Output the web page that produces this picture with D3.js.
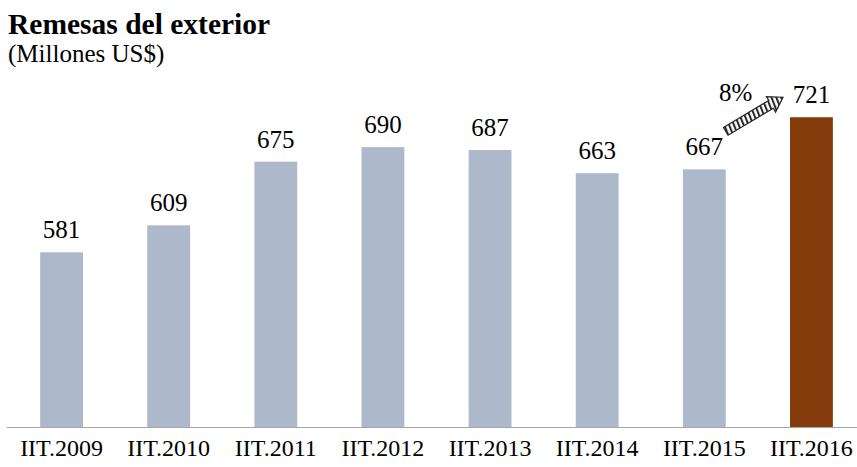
<!DOCTYPE html>
<html>
<head>
<meta charset="utf-8">
<script src="https://cdn.jsdelivr.net/npm/d3@7.9.0/dist/d3.min.js"></script>
<style>
  body { margin: 0; background: #fff; }
  svg { display: block; }
  text { font-family: "Liberation Serif", "DejaVu Serif", serif; fill: #000; }
</style>
</head>
<body>
<svg width="857" height="467"></svg>
<script>
const periods = ['IIT.2009', 'IIT.2010', 'IIT.2011', 'IIT.2012', 'IIT.2013', 'IIT.2014', 'IIT.2015', 'IIT.2016'];
const remesas = [581, 609, 675, 690, 687, 663, 667, 721];
const barColors = ['#adb9ca', '#adb9ca', '#adb9ca', '#adb9ca', '#adb9ca', '#adb9ca', '#adb9ca', '#843c0c'];

const data = periods.map((p, i) => ({ label: p, value: remesas[i], color: barColors[i] }));

const svg = d3.select('svg');
const baseY = 427;

const x = d3.scaleBand()
  .domain(periods)
  .range([8, 865])
  .paddingInner(0.6)
  .paddingOuter(0.3);

const y = d3.scaleLinear()
  .domain([400, 800])
  .range([baseY, 41]);

// title
svg.append('text')
  .attr('x', 8).attr('y', 34)
  .attr('font-size', 29.5).attr('font-weight', 'bold')
  .text('Remesas del exterior');
svg.append('text')
  .attr('x', 8).attr('y', 62)
  .attr('font-size', 25)
  .text('(Millones US$)');

// bars
svg.selectAll('rect.bar')
  .data(data)
  .join('rect')
  .attr('class', 'bar')
  .attr('x', d => x(d.label))
  .attr('width', x.bandwidth())
  .attr('y', d => y(d.value))
  .attr('height', d => baseY - y(d.value))
  .attr('fill', d => d.color);

// value labels
svg.selectAll('text.val')
  .data(data)
  .join('text')
  .attr('class', 'val')
  .attr('x', d => x(d.label) + x.bandwidth() / 2)
  .attr('y', d => y(d.value) - 14)
  .attr('text-anchor', 'middle')
  .attr('font-size', 25)
  .text(d => d.value);

// x axis
const xAxis = svg.append('g')
  .attr('transform', `translate(0,${baseY})`)
  .call(d3.axisBottom(x).tickSize(0).tickPadding(12));
xAxis.select('.domain').attr('d', 'M7,0.5H857').attr('stroke', '#a6a6a6');
xAxis.selectAll('text')
  .attr('font-family', '"Liberation Serif", serif')
  .attr('font-size', 24)
  .attr('fill', '#000');

// growth arrow between the last two periods
const prev = data[data.length - 2], last = data[data.length - 1];
const growth = Math.round((last.value / prev.value - 1) * 100);
const tail = [x(prev.label) + x.bandwidth(), y(prev.value) - 38];
const tip = [x(last.label) - 7, y(last.value) - 20];
const len = Math.hypot(tip[0] - tail[0], tip[1] - tail[1]);
const ang = Math.atan2(tip[1] - tail[1], tip[0] - tail[0]) * 180 / Math.PI;

const defs = svg.append('defs');
defs.append('pattern')
  .attr('id', 'hatch')
  .attr('patternUnits', 'userSpaceOnUse')
  .attr('width', 4.5).attr('height', 4.5)
  .attr('patternTransform', `rotate(${ang + 40})`)
  .append('rect')
  .attr('width', 2).attr('height', 4.5)
  .attr('fill', '#262626');

const sw = 4.5, hw = 9, hl = 14;
svg.append('path')
  .attr('transform', `translate(${tail[0]},${tail[1]}) rotate(${ang})`)
  .attr('d', `M0,${-sw}H${len - hl}V${-hw}L${len},0L${len - hl},${hw}V${sw}H0Z`)
  .attr('fill', 'url(#hatch)')
  .attr('stroke', '#262626')
  .attr('stroke-width', 1.2);

svg.append('text')
  .attr('x', tail[0] + 10)
  .attr('y', tip[1] + 4)
  .attr('text-anchor', 'middle')
  .attr('font-size', 25)
  .text(`${growth}%`);
</script>
</body>
</html>
